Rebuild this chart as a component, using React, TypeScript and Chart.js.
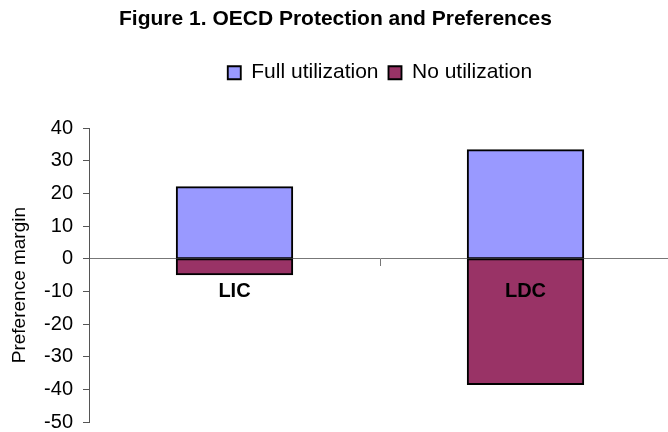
import { useEffect, useRef } from 'react';
import { Chart, registerables } from 'chart.js';

Chart.register(...registerables);

const chartTitle = 'Figure 1. OECD Protection and Preferences';
const yAxisTitle = 'Preference margin';
const categories = ['LIC', 'LDC'];
const seriesNames = ['Full utilization', 'No utilization'];
const fullUtilization = [22.1, 33.4];
const noUtilization = [-4.9, -38.5];
const yMin = -50;
const yMax = 40;
const yStep = 10;

const FONT = '"Liberation Sans", Arial, Helvetica, sans-serif';

const legendSpacer = {
  id: 'legendSpacer',
  beforeUpdate(chart: any) {
    const lg = chart.legend;
    if (lg && !lg._spacerPatched) {
      const orig = lg.fit;
      lg.fit = function () {
        orig.call(this);
        this.height += 35;
      };
      lg._spacerPatched = true;
    }
  },
};

// Y axis title, drawn slightly below the axis centre as in the reference
const yTitlePlugin = {
  id: 'yTitle',
  afterDraw(chart: any) {
    const { ctx, chartArea } = chart;
    const cy = (chartArea.top + chartArea.bottom) / 2 + 10;
    ctx.save();
    ctx.translate(20, cy);
    ctx.rotate(-Math.PI / 2);
    ctx.font = `19px ${FONT}`;
    ctx.fillStyle = '#000';
    ctx.textAlign = 'center';
    ctx.textBaseline = 'middle';
    ctx.fillText(yAxisTitle, 0, 0);
    ctx.restore();
  },
};

export default function App() {
  const ref = useRef<HTMLCanvasElement | null>(null);

  useEffect(() => {
    if (!ref.current) return;
    Chart.defaults.color = '#000';
    Chart.defaults.font.family = FONT;
    const chart = new Chart(ref.current, {
      type: 'bar',
      data: {
        labels: categories,
        datasets: [
          {
            label: seriesNames[0],
            data: fullUtilization,
            backgroundColor: '#9999FF',
            borderColor: '#000000',
            borderWidth: { top: 2, left: 2, right: 2, bottom: 1.5 },
            borderSkipped: false,
            inflateAmount: 0.5,
            categoryPercentage: 1,
            barPercentage: 0.4,
          },
          {
            label: seriesNames[1],
            data: noUtilization,
            backgroundColor: '#993366',
            borderColor: '#000000',
            borderWidth: { top: 1.5, left: 2, right: 2, bottom: 2 },
            borderSkipped: false,
            inflateAmount: 0.5,
            categoryPercentage: 1,
            barPercentage: 0.4,
          },
        ],
      },
      options: {
        animation: false,
        responsive: false,
        layout: { padding: { left: 0, right: 1, top: 0, bottom: 0 } },
        plugins: {
          tooltip: { enabled: false },
          title: {
            display: true,
            text: chartTitle,
            color: '#000',
            font: { family: FONT, size: 21, weight: 'bold' },
            padding: { top: 7, bottom: 20 },
          },
          legend: {
            display: true,
            position: 'top',
            fullSize: false,
            labels: {
              color: '#000',
              font: { family: FONT, size: 21 },
              boxWidth: 13,
              boxHeight: 13,
              padding: 10,
            },
          },
        },
        scales: {
          x: {
            type: 'category',
            position: { y: 0 } as any,
            stacked: true,
            offset: true,
            grid: {
              display: true,
              offset: true,
              drawOnChartArea: false,
              drawTicks: true,
              tickLength: 7,
              color: '#777777',
            },
            border: { display: true, color: '#777777', width: 1 },
            ticks: {
              color: '#000',
              font: { family: FONT, size: 20, weight: 'bold' },
              padding: 14,
              maxRotation: 0,
              autoSkip: false,
              z: 1,
            },
            afterFit: (s: any) => {
              s.height = 0;
            },
          },
          y: {
            type: 'linear',
            position: 'left',
            stacked: true,
            min: yMin,
            max: yMax,
            ticks: {
              stepSize: yStep,
              color: '#000',
              font: { family: FONT, size: 20 },
              padding: 10,
            },
            grid: {
              display: true,
              drawOnChartArea: false,
              drawTicks: true,
              tickLength: 6,
              color: '#555555',
            },
            border: { display: true, color: '#555555', width: 1 },
            title: { display: false },
            afterFit: (s: any) => {
              s.width = 89;
            },
          },
        },
      },
      plugins: [legendSpacer, yTitlePlugin],
    } as any);
    return () => chart.destroy();
  }, []);

  return (
    <div
      style={{
        position: 'fixed',
        left: 0,
        top: 0,
        width: 668,
        height: 432,
        overflow: 'hidden',
        background: '#fff',
      }}
    >
      <canvas ref={ref} width={672} height={444} style={{ display: 'block' }} />
    </div>
  );
}
